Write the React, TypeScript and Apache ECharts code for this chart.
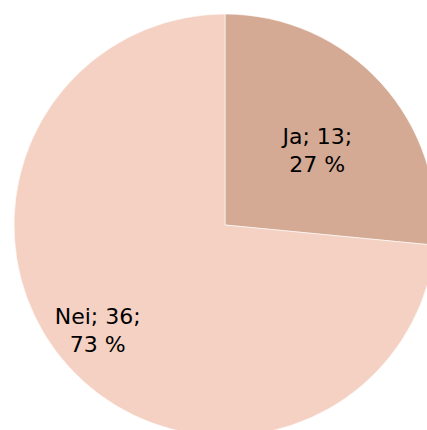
import React, { useEffect, useRef } from "react";
import * as echarts from "echarts";

const categories = ["Ja", "Nei"];
const values = [13, 36];
const percents = ["27 %", "73 %"];
const colors = ["#D5AA94", "#F4D1C2"];
const labelOffsets: [number, number][] = [[12, -2], [-47, 33]];

export default function App() {
  const ref = useRef<HTMLDivElement>(null);
  useEffect(() => {
    const chart = echarts.init(ref.current!, undefined, { renderer: "svg" });
    chart.setOption({
      animation: false,
      backgroundColor: "#ffffff",
      series: [
        {
          type: "pie",
          center: [225, 225],
          radius: [0, 211],
          startAngle: 90,
          clockwise: true,
          silent: true,
          itemStyle: { borderColor: "#ffffff", borderWidth: 0.6 },
          labelLine: { show: false },
          data: categories.map((c, i) => ({
            name: c,
            value: values[i],
            itemStyle: { color: colors[i] },
            label: {
              show: true,
              position: "inside",
              offset: labelOffsets[i],
              formatter: `${c}; ${values[i]};\n${percents[i]}`,
              color: "#000000",
              fontSize: 22,
              lineHeight: 28,
              fontFamily: "DejaVu Sans, sans-serif",
              align: "center",
            },
          })),
        },
      ],
    });
    return () => chart.dispose();
  }, []);
  return (
    <div
      ref={ref}
      style={{ width: 427, height: 430, position: "absolute", left: 0, top: 0 }}
    />
  );
}
